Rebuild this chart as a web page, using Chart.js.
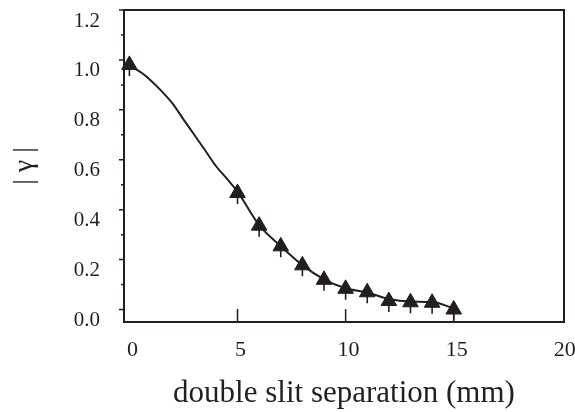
<!DOCTYPE html>
<html><head><meta charset="utf-8">
<script src="https://cdn.jsdelivr.net/npm/chart.js@4/dist/chart.umd.min.js"></script>
<style>html,body{margin:0;padding:0;background:#fff;}</style>
</head><body>
<canvas id="c" width="575" height="412"></canvas>
<script>
// measured |gamma| values (triangles)
const measuredX = [0, 5, 6, 7, 8, 9, 10, 11, 12, 13, 14, 15];
const measuredGamma = [0.98, 0.467, 0.336, 0.253, 0.177, 0.119, 0.083, 0.069, 0.034, 0.029, 0.027, 0.0];
// fitted curve
const curveX = [0, 0.5, 1, 1.5, 2, 2.5, 3, 3.5, 4, 4.5, 5, 6, 7, 8, 9, 10, 11, 12, 13, 14, 15];
const curveGamma = [0.975, 0.952, 0.917, 0.874, 0.825, 0.762, 0.70, 0.638, 0.575, 0.525, 0.472, 0.338, 0.254, 0.178, 0.121, 0.085, 0.068, 0.042, 0.032, 0.030, 0.005];
// axis ticks
const xTicks = [0, 5, 10, 15, 20];
const xTickMarks = [5, 10, 15];
const yTicks = [0, 0.2, 0.4, 0.6, 0.8, 1.0, 1.2];
const yMinorTicks = [0.1, 0.3, 0.5, 0.7, 0.9, 1.1];
const xTitle = 'double slit separation (mm)';
const yTitle = '| γ |';

const INK = '#231f20';
const SERIF = '"Liberation Serif", "Times New Roman", serif';

function noPad(s) { s.paddingLeft = 0; s.paddingRight = 0; s.paddingTop = 0; s.paddingBottom = 0; }

const decor = {
  id: 'decor',
  beforeDatasetsDraw(chart) {
    const {ctx, chartArea: a, scales: {x, y}} = chart;
    ctx.save();
    ctx.strokeStyle = INK;
    ctx.lineWidth = 2;
    ctx.strokeRect(a.left, a.top, a.right - a.left, a.bottom - a.top);
    ctx.lineWidth = 1.5;
    ctx.beginPath();
    yTicks.forEach(v => { const p = y.getPixelForValue(v); ctx.moveTo(a.left - 5, p); ctx.lineTo(a.left, p); });
    yMinorTicks.forEach(v => { const p = y.getPixelForValue(v); ctx.moveTo(a.left - 3, p); ctx.lineTo(a.left, p); });
    xTickMarks.forEach(v => { const p = x.getPixelForValue(v); ctx.moveTo(p, a.bottom); ctx.lineTo(p, a.bottom - 13); });
    ctx.stroke();
    ctx.restore();
  },
  afterDatasetsDraw(chart) {
    const {ctx} = chart;
    const meta = chart.getDatasetMeta(1);
    ctx.save();
    ctx.strokeStyle = INK;
    ctx.lineWidth = 1.6;
    ctx.beginPath();
    meta.data.forEach(pt => { ctx.moveTo(pt.x, pt.y); ctx.lineTo(pt.x, pt.y + 11); });
    ctx.stroke();
    ctx.restore();
  }
};

new Chart(document.getElementById('c'), {
  type: 'scatter',
  data: {
    datasets: [
      {
        data: curveX.map((v, i) => ({x: v, y: curveGamma[i]})),
        showLine: true,
        borderColor: INK,
        borderWidth: 2,
        pointRadius: 0,
        cubicInterpolationMode: 'monotone',
        clip: false
      },
      {
        data: measuredX.map((v, i) => ({x: v, y: measuredGamma[i]})),
        showLine: false,
        pointStyle: 'triangle',
        pointRadius: 9,
        backgroundColor: INK,
        borderColor: INK,
        borderWidth: 1,
        clip: false
      }
    ]
  },
  options: {
    responsive: false,
    animation: false,
    devicePixelRatio: 1,
    layout: {padding: {left: 0, right: 11, top: 7, bottom: 0}},
    plugins: {legend: {display: false}, tooltip: {enabled: false}},
    scales: {
      x: {
        type: 'linear',
        min: -0.25,
        max: 20.1,
        afterBuildTicks: s => { s.ticks = xTicks.map(v => ({value: v})); },
        afterFit: s => { s.height = 90; noPad(s); },
        grid: {display: false, drawTicks: false},
        border: {display: false},
        ticks: {color: INK, font: {family: SERIF, size: 22}, padding: 15, labelOffset: 3, maxRotation: 0},
        title: {display: true, text: xTitle, color: INK, font: {family: SERIF, size: 31}, padding: {top: 0, bottom: 0}}
      },
      y: {
        type: 'linear',
        min: -0.05,
        max: 1.2,
        afterBuildTicks: s => { s.ticks = yTicks.map(v => ({value: v})); },
        afterFit: s => { s.width = 124; noPad(s); },
        grid: {display: false, drawTicks: false},
        border: {display: false},
        ticks: {color: INK, font: {family: SERIF, size: 21}, padding: 24, labelOffset: 11, callback: v => Number(v).toFixed(1)},
        title: {display: true, text: yTitle, color: INK, font: {family: SERIF, size: 28}, padding: {top: 8, bottom: 0}}
      }
    }
  },
  plugins: [decor]
});
</script>
</body></html>
